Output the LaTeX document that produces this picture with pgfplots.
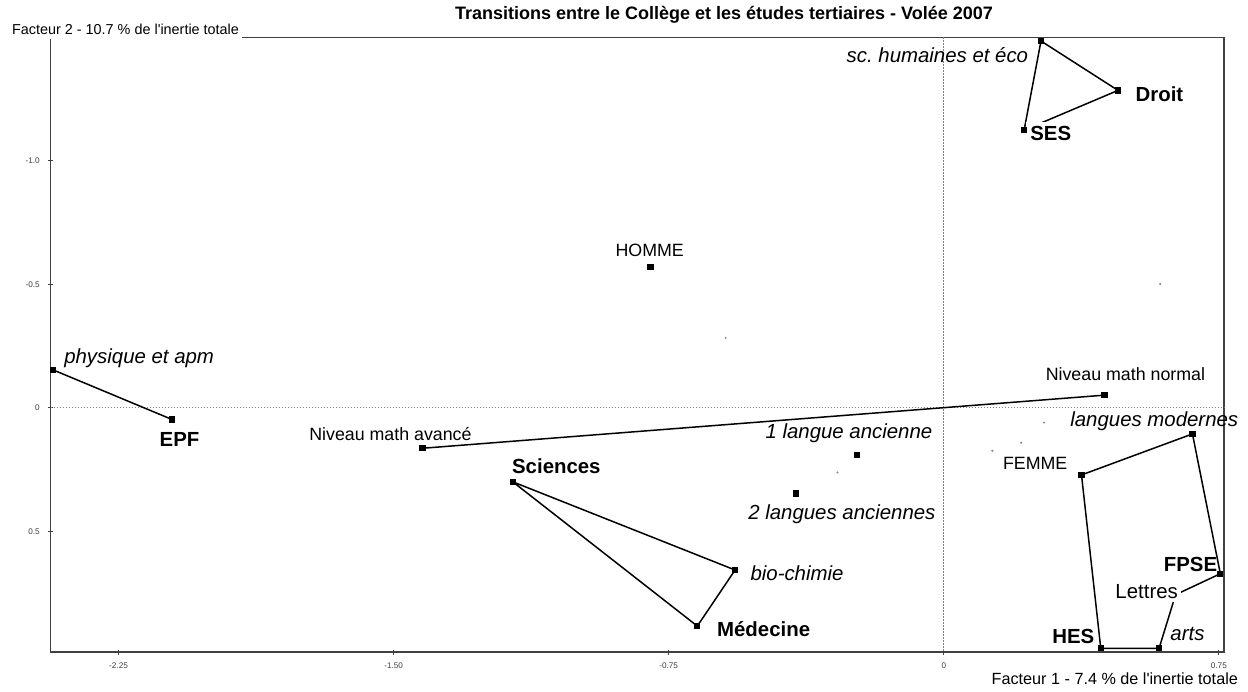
\documentclass[border=0pt]{standalone}
\usepackage{pgfplots}
\pgfplotsset{compat=1.18}
\usepackage{fontspec}
\setmainfont{Liberation Sans}

\tikzset{
  reg/.style={inner sep=0pt, font=\fontsize{8.9}{10}\selectfont},
  ital/.style={inner sep=0pt, font=\fontsize{10.2}{12}\selectfont\itshape},
  bld/.style={inner sep=0pt, font=\fontsize{10.2}{12}\selectfont\bfseries},
}

\begin{document}
\frenchspacing
\begin{tikzpicture}
\useasboundingbox (-25.35pt,-19.5pt) rectangle (598.65pt,326pt);
\begin{axis}[
  scale only axis, width=586.65pt, height=307.35pt,
  xmin=-2.435, xmax=0.764, ymin=-1.50, ymax=0.989,
  y dir=reverse,
  clip=false,
  axis line style={black!75, line width=0.6pt},
  xtick={-2.25,-1.5,-0.75,0,0.75},
  xticklabels={-2.25,-1.50,-0.75,0,0.75},
  ytick={-1,-0.5,0,0.5},
  yticklabels={-1.0,-0.5,0,0.5},
  tick pos=left, tick align=center, major tick length=2.5pt,
  tick style={black!75, line width=0.5pt},
  ticklabel style={font=\fontsize{4.1}{5}\selectfont, text=black!75, inner sep=0pt},
  xticklabel shift=4.15pt, yticklabel shift=4pt,
]
% axes through the origin
\addplot[gray, line width=0.5pt, dash pattern=on 0.75pt off 0.75pt] coordinates {(0,-1.5) (0,0.989)};
\addplot[gray, line width=0.5pt, dash pattern=on 0.75pt off 0.75pt] coordinates {(-2.435,0) (0.764,0)};

% faint supplementary points
\addplot[only marks, mark=*, mark size=0.3pt, black!45] coordinates {
  (-0.595,-0.283) (0.2735,0.060) (0.211,0.142) (0.1325,0.174) (-0.290,0.262) (0.590,-0.501)};

\pgfplotsset{pts/.style={black, line width=0.75pt, mark=square*, mark size=1.2pt}}
\addplot[pts] coordinates {(-2.428,-0.153) (-2.105,0.047)};
\addplot[pts] coordinates {(-1.421,0.164) (0.438,-0.051)};
\addplot[pts, only marks] coordinates {(-0.236,0.191) (-0.402,0.347) (-0.800,-0.571)};
\addplot[pts] coordinates {(-1.175,0.300) (-0.569,0.657) (-0.672,0.884) (-1.175,0.300)};
\addplot[pts] coordinates {(0.265,-1.485) (0.475,-1.285) (0.219,-1.124) (0.265,-1.485)};
\addplot[black, line width=0.75pt, no marks] coordinates {
  (0.3755,0.272) (0.678,0.106) (0.754,0.672) (0.632,0.757) (0.587,0.974) (0.428,0.974) (0.3755,0.272)};
\addplot[pts, only marks] coordinates {
  (0.3755,0.272) (0.678,0.106) (0.754,0.672) (0.587,0.974) (0.428,0.974)};

% labels
\node[ital, anchor=base west] at (axis cs:-2.399,-0.179) {physique et apm};
\node[bld, anchor=base west] at (axis cs:-2.139,0.158) {EPF};
\node[reg, anchor=base west] at (axis cs:-1.731,0.131) {Niveau math avancé};
\node[reg, anchor=base west] at (axis cs:0.277,-0.112) {Niveau math normal};
\node[ital, anchor=base west] at (axis cs:-0.487,0.124) {1 langue ancienne};
\node[ital, anchor=base west] at (axis cs:-0.534,0.451) {2 langues anciennes};
\node[reg, anchor=base west] at (axis cs:-0.896,-0.611) {HOMME};
\node[reg, anchor=base west] at (axis cs:0.1606,0.252) {FEMME};
\node[ital, anchor=base west] at (axis cs:0.344,0.077) {langues modernes};
\node[bld, anchor=base west] at (axis cs:0.599,0.664) {FPSE};
\node[inner sep=1.5pt, fill=white, font=\fontsize{10.2}{12}\selectfont, anchor=base west, xshift=-1.5pt] at (axis cs:0.467,0.772) {Lettres};
\node[ital, anchor=base west] at (axis cs:0.617,0.943) {arts};
\node[bld, anchor=base west] at (axis cs:0.295,0.954) {HES};
\node[ital, anchor=base east] at (axis cs:0.231,-1.397) {sc. humaines et éco};
\node[bld, anchor=base west] at (axis cs:0.522,-1.239) {Droit};
\node[inner sep=2pt, fill=white, font=\fontsize{10.2}{12}\selectfont\bfseries, anchor=base west, xshift=-2pt] at (axis cs:0.235,-1.084) {SES};
\node[bld, anchor=base west] at (axis cs:-1.178,0.266) {Sciences};
\node[ital, anchor=base west] at (axis cs:-0.528,0.698) {bio-chimie};
\node[bld, anchor=base west] at (axis cs:-0.619,0.928) {Médecine};
\end{axis}

% title and axis titles
\node[anchor=base, font=\fontsize{9}{11}\selectfont\bfseries] at (336.65pt,316.15pt)
  {Transitions entre le Collège et les études tertiaires - Volée 2007};
\node[anchor=base west, fill=white, inner xsep=1.5pt, inner ysep=2pt, font=\fontsize{7.2}{9}\selectfont]
  at (-21pt,308.5pt) {Facteur 2 - 10.7 \% de l\textquotesingle inertie totale};
\node[anchor=base east, inner sep=0pt, font=\fontsize{8.1}{10}\selectfont]
  at (593.8pt,-16pt) {Facteur 1 - 7.4 \% de l\textquotesingle inertie totale};
\end{tikzpicture}
\end{document}
